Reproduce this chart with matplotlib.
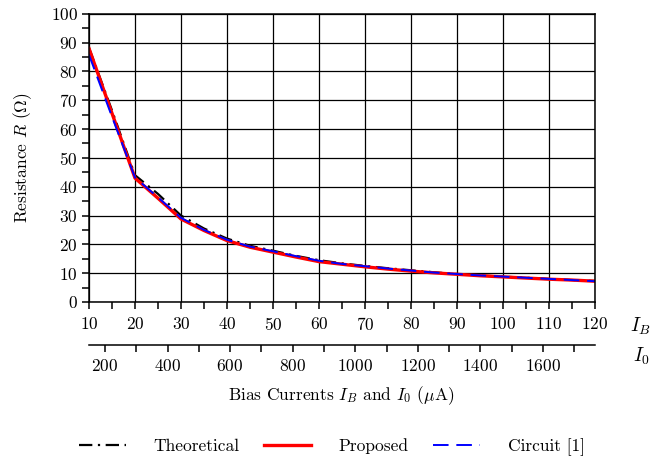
import matplotlib
matplotlib.use("Agg")
import matplotlib.pyplot as plt
from matplotlib.ticker import MultipleLocator

plt.rcParams["font.family"] = "serif"
plt.rcParams["font.serif"] = ["cmr10", "DejaVu Serif"]
plt.rcParams["mathtext.fontset"] = "cm"
plt.rcParams["axes.formatter.use_mathtext"] = True
plt.rcParams["font.size"] = 12.5

# bias current I_B (uA)
ib = [10, 15, 20, 25, 30, 35, 40, 45, 50, 55, 60, 65, 70,
      75, 80, 85, 90, 95, 100, 105, 110, 115, 120]
r_theory = [88.2, 66.5, 44.0, 37.5, 30.0, 25.5, 22.0, 19.5, 17.8, 16.0, 14.5, 13.4,
            12.5, 11.7, 11.0, 10.3, 9.7, 9.2, 8.8, 8.4, 8.0, 7.6, 7.3]
r_proposed = [88.0, 65.5, 43.0, 36.0, 28.8, 24.8, 21.3, 19.0, 17.3, 15.6, 14.0, 13.1,
              12.2, 11.4, 10.7, 10.1, 9.6, 9.1, 8.7, 8.3, 7.9, 7.6, 7.2]
r_circuit = [85.8, 64.3, 43.2, 36.3, 29.2, 25.0, 21.6, 19.2, 17.6, 15.9, 14.3, 13.2,
             12.4, 11.6, 10.9, 10.2, 9.7, 9.2, 8.8, 8.4, 8.0, 7.6, 7.2]

i0_ticks = [200, 400, 600, 800, 1000, 1200, 1400, 1600]
i0_lim = (149, 1766)

fig = plt.figure(figsize=(6.64, 4.61), dpi=100)
ax = fig.add_axes([0.134, 0.345, 0.762, 0.625])

ax.plot(ib, r_theory, color="black", lw=1.6, ls=(0, (6, 2.5, 1, 2.5)), label="Theoretical")
ax.plot(ib, r_proposed, color="red", lw=2.4, label="Proposed")
ax.plot(ib, r_circuit, color="blue", lw=1.4, ls=(0, (8, 4)), label="Circuit [1]")

ax.set_xlim(10, 120)
ax.set_ylim(0, 100)
ax.xaxis.set_major_locator(MultipleLocator(10))
ax.xaxis.set_minor_locator(MultipleLocator(5))
ax.yaxis.set_major_locator(MultipleLocator(10))
ax.yaxis.set_minor_locator(MultipleLocator(5))
ax.grid(True, which="major", color="black", lw=0.9)
ax.tick_params(which="both", direction="out", color="black", width=1.1, length=5)
ax.tick_params(axis="x", pad=5)
ax.tick_params(axis="y", pad=3)
for s in ax.spines.values():
    s.set_linewidth(1.1)
ax.set_ylabel(r"Resistance $R$ ($\Omega$)", labelpad=12)

# second current axis
ax2 = fig.add_axes([0.134, 0.2516, 0.762, 0.0001])
ax2.set_xlim(*i0_lim)
ax2.set_xticks(i0_ticks)
ax2.set_xticks([t + 100 for t in i0_ticks], minor=True)
ax2.set_yticks([])
for k in ("top", "left", "right"):
    ax2.spines[k].set_visible(False)
ax2.spines["bottom"].set_linewidth(1.1)
ax2.tick_params(which="both", direction="out", length=5, width=1.1, pad=4)
ax2.patch.set_visible(False)

fig.text(0.965, 0.292, r"$I_B$", ha="center", va="center", fontsize=14)
fig.text(0.966, 0.228, r"$I_0$", ha="center", va="center", fontsize=14)
fig.text(0.513, 0.141, r"Bias Currents $I_B$ and $I_0$ ($\mu$A)", ha="center", va="center")

h, l = ax.get_legend_handles_labels()
fig.legend(h, l, loc="center", bbox_to_anchor=(0.5, 0.03), ncol=3, frameon=False,
           handlelength=2.7, handletextpad=1.6, columnspacing=1.4)

fig.savefig("out.png", dpi=100)
